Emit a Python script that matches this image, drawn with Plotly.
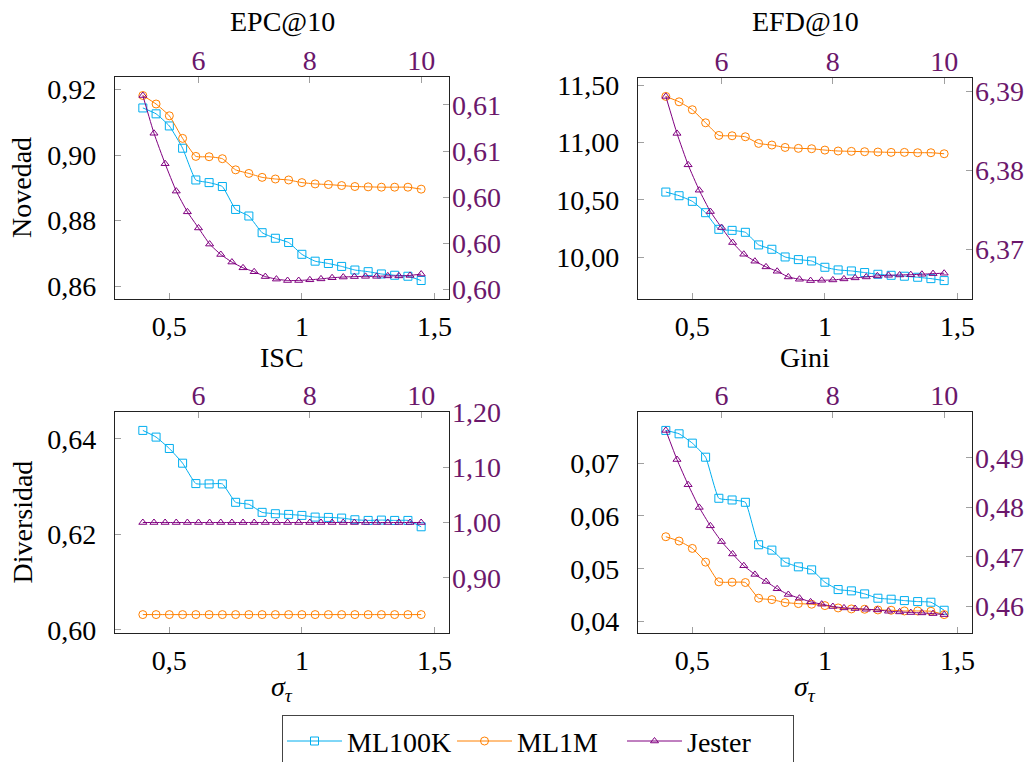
import plotly.graph_objects as go

# ---------------- data ----------------
sigma = [0.40, 0.45, 0.50, 0.55, 0.60, 0.65, 0.70, 0.75, 0.80, 0.85, 0.90,
         0.95, 1.00, 1.05, 1.10, 1.15, 1.20, 1.25, 1.30, 1.35, 1.40, 1.45]
sigma_jester = [5.0, 5.2, 5.4, 5.6, 5.8, 6.0, 6.2, 6.4, 6.6, 6.8, 7.0, 7.2, 7.4,
                7.6, 7.8, 8.0, 8.2, 8.4, 8.6, 8.8, 9.0, 9.2, 9.4, 9.6, 9.8, 10.0]

titles = ["EPC@10", "EFD@10", "ISC", "Gini"]
series_names = ["ML100K", "ML1M", "Jester"]

epc_ml100k = [0.9144, 0.9126, 0.9089, 0.9021, 0.8924, 0.8916, 0.8904, 0.8834, 0.8814,
              0.8763, 0.8746, 0.8733, 0.8697, 0.8676, 0.8669, 0.8660, 0.8649, 0.8644,
              0.8637, 0.8633, 0.8630, 0.8617]
epc_ml1m = [0.9182, 0.9156, 0.9120, 0.9051, 0.8996, 0.8995, 0.8989, 0.8955, 0.8944,
            0.8932, 0.8927, 0.8924, 0.8916, 0.8912, 0.8910, 0.8907, 0.8904, 0.8903,
            0.8902, 0.8902, 0.8902, 0.8896]
epc_jester = [0.60841, 0.60677, 0.60545, 0.60426, 0.60336, 0.60266, 0.60196, 0.60151,
              0.60118, 0.60093, 0.60076, 0.60055, 0.60044, 0.60038, 0.60038, 0.60041,
              0.60045, 0.60050, 0.60053, 0.60055, 0.60056, 0.60056, 0.60058, 0.60058,
              0.60060, 0.60066]

efd_ml100k = [10.569, 10.537, 10.488, 10.389, 10.244, 10.235, 10.218, 10.108, 10.070,
              10.003, 9.980, 9.968, 9.913, 9.890, 9.881, 9.867, 9.852, 9.843, 9.835,
              9.826, 9.814, 9.797]
efd_ml1m = [11.403, 11.356, 11.287, 11.173, 11.063, 11.060, 11.051, 10.993, 10.979,
            10.958, 10.950, 10.947, 10.935, 10.927, 10.924, 10.921, 10.918, 10.915,
            10.915, 10.912, 10.912, 10.903]
efd_jester = [6.38932, 6.38464, 6.38067, 6.37746, 6.37476, 6.37274, 6.37084, 6.36936,
              6.36848, 6.36776, 6.36721, 6.36649, 6.36620, 6.36603, 6.36607, 6.36611,
              6.36624, 6.36637, 6.36649, 6.36662, 6.36670, 6.36674, 6.36678, 6.36683,
              6.36691, 6.36696]

isc_ml100k = [0.64175, 0.64035, 0.63797, 0.63489, 0.63062, 0.63055, 0.63055, 0.62670,
              0.62628, 0.62460, 0.62431, 0.62417, 0.62396, 0.62361, 0.62354, 0.62340,
              0.62305, 0.62291, 0.62298, 0.62291, 0.62291, 0.62158]
isc_ml1m = [0.6032] * 22
isc_jester = [1.0] * 26

gini_ml100k = [0.07620, 0.07556, 0.07379, 0.07113, 0.06335, 0.06303, 0.06259, 0.05455,
               0.05354, 0.05126, 0.05037, 0.04980, 0.04746, 0.04607, 0.04582, 0.04525,
               0.04443, 0.04424, 0.04398, 0.04379, 0.04367, 0.04215]
gini_ml1m = [0.05607, 0.05525, 0.05386, 0.05126, 0.04753, 0.04746, 0.04740, 0.04443,
             0.04417, 0.04360, 0.04341, 0.04329, 0.04303, 0.04259, 0.04240, 0.04234,
             0.04221, 0.04215, 0.04202, 0.04202, 0.04196, 0.04133]
gini_jester = [0.49556, 0.48968, 0.48460, 0.48001, 0.47629, 0.47311, 0.47061, 0.46824,
               0.46648, 0.46506, 0.46358, 0.46243, 0.46168, 0.46094, 0.46047, 0.46000,
               0.45972, 0.45959, 0.45945, 0.45932, 0.45905, 0.45891, 0.45878, 0.45871,
               0.45857, 0.45837]

x_ticks = [0.5, 1, 1.5]
x_top_ticks = [6, 8, 10]
left_ticks = [[0.86, 0.88, 0.90, 0.92], [10.0, 10.5, 11.0, 11.5],
              [0.60, 0.62, 0.64], [0.04, 0.05, 0.06, 0.07]]
right_ticks = [[0.600, 0.602, 0.604, 0.606, 0.608], [6.37, 6.38, 6.39],
               [0.90, 1.00, 1.10, 1.20], [0.46, 0.47, 0.48, 0.49]]
ylabels = ["Novedad", None, "Diversidad", None]
xlabel = "<i>σ<sub>τ</sub></i>"

# ---------------- styling ----------------
FONT = "Liberation Serif"
FS = 28
C_ML100K = "#00AEEF"
C_ML1M = "#FF8000"
C_JESTER = "#800080"
C_JLABEL = "#6b176b"
TICKC = "#a0a0a0"
W, H = 1030, 762

data_sets = [
    (epc_ml100k, epc_ml1m, epc_jester),
    (efd_ml100k, efd_ml1m, efd_jester),
    (isc_ml100k, isc_ml1m, isc_jester),
    (gini_ml100k, gini_ml1m, gini_jester),
]

# panel boxes in pixels (x0, x1, ytop, ybottom)
boxes = [(115, 449, 77, 299), (638, 972, 78, 299),
         (115, 449, 412, 633), (638, 972, 412, 633)]


def enlarge(vals, frac=0.1):
    lo, hi = min(vals), max(vals)
    r = hi - lo
    if r == 0:
        return [lo - 0.2, hi + 0.2]
    return [lo - frac * r, hi + frac * r]


def ax(prefix, k):
    return prefix if k == 1 else f"{prefix}{k}"


fig = go.Figure()
layout = {}
annotations = []
black_font = dict(family=FONT, size=FS, color="black")
purple_font = dict(family=FONT, size=FS, color=C_JLABEL)

for i, (ml100k, ml1m, jester) in enumerate(data_sets):
    kb = 2 * i + 1  # bottom x / left y
    kt = 2 * i + 2  # top x / right y
    x0, x1, yt, yb = boxes[i]
    xdom = [x0 / W, x1 / W]
    ydom = [1 - yb / H, 1 - yt / H]

    common = dict(showgrid=False, zeroline=False, ticks="inside", ticklen=6,
                  tickcolor=TICKC, tickwidth=1.2, automargin=False)

    layout[ax("xaxis", kb)] = dict(
        domain=xdom, anchor=ax("y", kb), range=enlarge(sigma), tickvals=x_ticks,
        showline=True, mirror=True, linecolor="#222", linewidth=1.4,
        tickfont=black_font, ticklabelstandoff=2, **common)
    layout[ax("xaxis", kt)] = dict(
        overlaying=ax("x", kb), side="top", anchor=ax("y", kt),
        range=enlarge(sigma_jester), tickvals=x_top_ticks, showline=False,
        tickfont=purple_font, ticklabelstandoff=0, **common)
    layout[ax("yaxis", kb)] = dict(
        domain=ydom, anchor=ax("x", kb), range=enlarge(ml100k + ml1m),
        tickvals=left_ticks[i], tickformat=".2f", showline=True, mirror=True,
        linecolor="#222", linewidth=1.4, tickfont=black_font,
        ticklabelstandoff=12, **common)
    layout[ax("yaxis", kt)] = dict(
        overlaying=ax("y", kb), side="right", anchor=ax("x", kt),
        range=enlarge(jester), tickvals=right_ticks[i], tickformat=".2f",
        showline=False, tickfont=purple_font, ticklabelstandoff=2,
        **common)

    for name, vals, col, sym, size, xs, xa, ya in [
        ("ML100K", ml100k, C_ML100K, "square-open", 8, sigma, ax("x", kb), ax("y", kb)),
        ("ML1M", ml1m, C_ML1M, "circle-open", 8, sigma, ax("x", kb), ax("y", kb)),
        ("Jester", jester, C_JESTER, "triangle-up-open", 7, sigma_jester, ax("x", kt), ax("y", kt)),
    ]:
        fig.add_trace(go.Scatter(
            x=xs, y=vals, name=name, mode="lines+markers",
            line=dict(color=col, width=1, shape="spline", smoothing=0.4),
            marker=dict(symbol=sym, size=size, color=col, line=dict(width=1, color=col)),
            xaxis=xa, yaxis=ya, legendgroup=name, showlegend=(i == 0)))

    # panel title
    annotations.append(dict(text=titles[i], x=(x0 + x1) / 2 / W, y=1 - (22 if i < 2 else 357) / H,
                            xref="paper", yref="paper", showarrow=False,
                            xanchor="center", yanchor="middle", font=black_font))
    if ylabels[i]:
        annotations.append(dict(text=ylabels[i], x=22 / W, y=1 - ((yt + yb) / 2) / H,
                                xref="paper", yref="paper", showarrow=False, textangle=-90,
                                xanchor="center", yanchor="middle", font=black_font))
    if i >= 2:
        annotations.append(dict(text=xlabel, x=(x0 + x1) / 2 / W, y=1 - 688 / H,
                                xref="paper", yref="paper", showarrow=False,
                                xanchor="center", yanchor="middle", font=black_font))

fig.update_layout(
    width=W, height=H, margin=dict(l=0, r=0, t=0, b=0, autoexpand=False),
    paper_bgcolor="white", plot_bgcolor="white",
    separators=",.",
    font=black_font,
    annotations=annotations,
    legend=dict(orientation="h", x=282 / W, y=1 - 715 / H, xanchor="left", yanchor="top",
                bordercolor="#444", borderwidth=1.3, bgcolor="white",
                font=black_font, itemwidth=55, entrywidth=100),
    **layout,
)

fig.write_html("out.html")
